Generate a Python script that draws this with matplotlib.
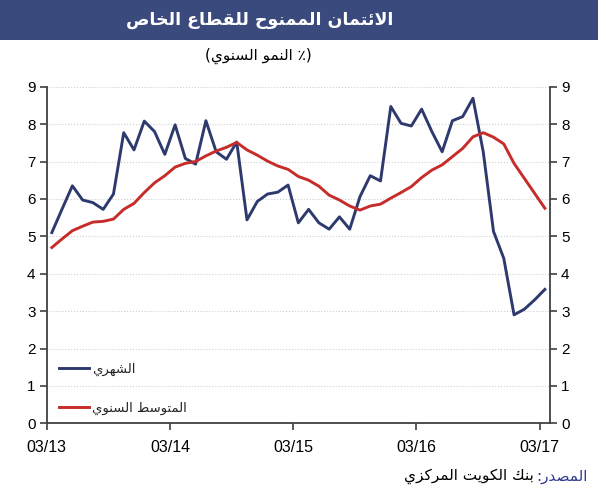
import matplotlib
matplotlib.use("Agg")
import matplotlib.pyplot as plt
from matplotlib.patches import Rectangle

# ---------------- data ----------------
x_tick_labels = ["03/13", "03/14", "03/15", "03/16", "03/17"]
monthly = [5.10, 5.73, 6.35, 5.97, 5.90, 5.72, 6.13, 7.77, 7.31, 8.08,
           7.80, 7.19, 7.98, 7.08, 6.93, 8.09, 7.26, 7.06, 7.52, 5.44,
           5.93, 6.13, 6.18, 6.37, 5.36, 5.72, 5.36, 5.19, 5.52, 5.19,
           6.06, 6.62, 6.48, 8.47, 8.02, 7.95, 8.40, 7.80, 7.26, 8.09,
           8.20, 8.69, 7.26, 5.13, 4.41, 2.90, 3.05, 3.30, 3.58]
annual_avg = [4.70, 4.93, 5.15, 5.27, 5.38, 5.40, 5.46, 5.72, 5.88, 6.17,
              6.43, 6.62, 6.85, 6.95, 7.00, 7.15, 7.28, 7.38, 7.51, 7.31,
              7.17, 7.01, 6.88, 6.79, 6.60, 6.50, 6.34, 6.10, 5.97, 5.81,
              5.70, 5.81, 5.86, 6.02, 6.17, 6.33, 6.57, 6.77, 6.91, 7.13,
              7.35, 7.66, 7.77, 7.65, 7.47, 6.95, 6.55, 6.15, 5.75]
y_ticks = list(range(0, 10))

title_text = "الائتمان الممنوح للقطاع الخاص"
subtitle_text = "(٪ النمو السنوي)"
legend_monthly = "الشهري"
legend_annual = "المتوسط السنوي"
source_label = "المصدر:"
source_text = "بنك الكويت المركزي"

# ------------- minimal Arabic shaping -------------
FORMS = {
    '\u0621': (0xFE80, None, None, None),
    '\u0622': (0xFE81, 0xFE82, None, None),
    '\u0623': (0xFE83, 0xFE84, None, None),
    '\u0625': (0xFE87, 0xFE88, None, None),
    '\u0626': (0xFE89, 0xFE8A, 0xFE8B, 0xFE8C),
    '\u0627': (0xFE8D, 0xFE8E, None, None),
    '\u0628': (0xFE8F, 0xFE90, 0xFE91, 0xFE92),
    '\u0629': (0xFE93, 0xFE94, None, None),
    '\u062A': (0xFE95, 0xFE96, 0xFE97, 0xFE98),
    '\u062B': (0xFE99, 0xFE9A, 0xFE9B, 0xFE9C),
    '\u062C': (0xFE9D, 0xFE9E, 0xFE9F, 0xFEA0),
    '\u062D': (0xFEA1, 0xFEA2, 0xFEA3, 0xFEA4),
    '\u062E': (0xFEA5, 0xFEA6, 0xFEA7, 0xFEA8),
    '\u062F': (0xFEA9, 0xFEAA, None, None),
    '\u0630': (0xFEAB, 0xFEAC, None, None),
    '\u0631': (0xFEAD, 0xFEAE, None, None),
    '\u0632': (0xFEAF, 0xFEB0, None, None),
    '\u0633': (0xFEB1, 0xFEB2, 0xFEB3, 0xFEB4),
    '\u0634': (0xFEB5, 0xFEB6, 0xFEB7, 0xFEB8),
    '\u0635': (0xFEB9, 0xFEBA, 0xFEBB, 0xFEBC),
    '\u0636': (0xFEBD, 0xFEBE, 0xFEBF, 0xFEC0),
    '\u0637': (0xFEC1, 0xFEC2, 0xFEC3, 0xFEC4),
    '\u0638': (0xFEC5, 0xFEC6, 0xFEC7, 0xFEC8),
    '\u0639': (0xFEC9, 0xFECA, 0xFECB, 0xFECC),
    '\u063A': (0xFECD, 0xFECE, 0xFECF, 0xFED0),
    '\u0641': (0xFED1, 0xFED2, 0xFED3, 0xFED4),
    '\u0642': (0xFED5, 0xFED6, 0xFED7, 0xFED8),
    '\u0643': (0xFED9, 0xFEDA, 0xFEDB, 0xFEDC),
    '\u0644': (0xFEDD, 0xFEDE, 0xFEDF, 0xFEE0),
    '\u0645': (0xFEE1, 0xFEE2, 0xFEE3, 0xFEE4),
    '\u0646': (0xFEE5, 0xFEE6, 0xFEE7, 0xFEE8),
    '\u0647': (0xFEE9, 0xFEEA, 0xFEEB, 0xFEEC),
    '\u0648': (0xFEED, 0xFEEE, None, None),
    '\u0649': (0xFEEF, 0xFEF0, None, None),
    '\u064A': (0xFEF1, 0xFEF2, 0xFEF3, 0xFEF4),
}
LAM_ALEF = {'\u0627': (0xFEFB, 0xFEFC), '\u0623': (0xFEF7, 0xFEF8),
            '\u0625': (0xFEF9, 0xFEFA), '\u0622': (0xFEF5, 0xFEF6)}


def dual(c):
    return c in FORMS and FORMS[c][2] is not None


def joins(c):
    return c in FORMS and FORMS[c][1] is not None


def shape(s):
    chars = []
    i = 0
    while i < len(s):
        if s[i] == '\u0644' and i + 1 < len(s) and s[i + 1] in LAM_ALEF:
            chars.append(('LIG', s[i + 1]))
            i += 2
        else:
            chars.append(s[i])
            i += 1
    out = []
    for k, c in enumerate(chars):
        prev = chars[k - 1] if k > 0 else None
        nxt = chars[k + 1] if k + 1 < len(chars) else None
        prev_join = prev is not None and not isinstance(prev, tuple) and dual(prev)
        if isinstance(c, tuple):
            iso, fin = LAM_ALEF[c[1]]
            out.append(chr(fin if prev_join else iso))
            continue
        if c not in FORMS:
            out.append(c)
            continue
        f = FORMS[c]
        pj = prev_join and joins(c)
        nj = dual(c) and nxt is not None and (isinstance(nxt, tuple) or joins(nxt))
        if pj and nj:
            code = f[3]
        elif pj:
            code = f[1]
        elif nj:
            code = f[2]
        else:
            code = f[0]
        out.append(chr(code))
    return out


def vis(s):
    mirror = {'(': ')', ')': '('}
    r = shape(s)[::-1]
    return ''.join(mirror.get(c, c) for c in r)


# ---------------- figure ----------------
plt.rcParams['font.family'] = ['Liberation Sans', 'DejaVu Sans']
fig = plt.figure(figsize=(5.98, 5.0), dpi=100)
W, H = 598.0, 500.0

# title band
band = Rectangle((0, 1 - 40 / H), 1, 40 / H, transform=fig.transFigure,
                 facecolor='#3b4a7c', edgecolor='none', zorder=0)
fig.patches.append(band)
fig.text(260 / W, 1 - 20 / H, vis(title_text), color='white', fontsize=12.5,
         fontweight='bold', family=['DejaVu Sans'], ha='center', va='center')
fig.text(258 / W, 1 - 56 / H, vis(subtitle_text), color='black', fontsize=11,
         family=['DejaVu Sans'], ha='center', va='center')

left, right, top, bottom = 46.7, 550.0, 86.7, 423.3
ax = fig.add_axes([left / W, 1 - bottom / H, (right - left) / W, (bottom - top) / H])

n = len(monthly)
xs = [i + 0.5 for i in range(n)]
blue = '#2e3a6e'
red = '#c62d2a'
ax.plot(xs, monthly, color=blue, lw=2.1, label=vis(legend_monthly), zorder=3)
ax.plot(xs, annual_avg, color=red, lw=2.1, label=vis(legend_annual), zorder=3)

ax.set_xlim(0, 49)
ax.set_ylim(0, 9)
ax.set_yticks(y_ticks)
ax.set_xticks([0, 12, 24, 36, 48])
ax.set_xticklabels(x_tick_labels)
ax.grid(axis='y', color='#cfcfcf', lw=0.8, ls=':')
ax.set_axisbelow(True)
for sp in ['left', 'right', 'bottom']:
    ax.spines[sp].set_color('#404040')
    ax.spines[sp].set_linewidth(1.3)
ax.spines['top'].set_visible(False)
ax.tick_params(axis='y', left=True, right=True, labelleft=True, labelright=True,
               direction='out', length=5, width=1.2, color='#404040',
               labelsize=11, pad=3)
ax.tick_params(axis='x', direction='out', length=5, width=1.2, color='#404040',
               labelsize=11.5, pad=7)

leg = ax.legend(loc='upper left', bbox_to_anchor=(0.024, 0.18), frameon=False,
                handlelength=2.3, handletextpad=0.2, labelspacing=1.95,
                borderpad=0, borderaxespad=0,
                prop={'family': 'DejaVu Sans', 'size': 9.5})
for t in leg.get_texts():
    t.set_color('#222222')

# source line
renderer = fig.canvas.get_renderer()
src1 = fig.text(588 / W, 1 - 476 / H, vis(source_label), color='#2e3a8e',
                fontsize=11, family=['DejaVu Sans'], ha='right', va='center')
bb = src1.get_window_extent(renderer=renderer)
fig.text(bb.x0 / W - 3 / W, 1 - 476 / H, vis(source_text), color='black',
         fontsize=11, family=['DejaVu Sans'], ha='right', va='center')

fig.savefig('out.png', dpi=100)
